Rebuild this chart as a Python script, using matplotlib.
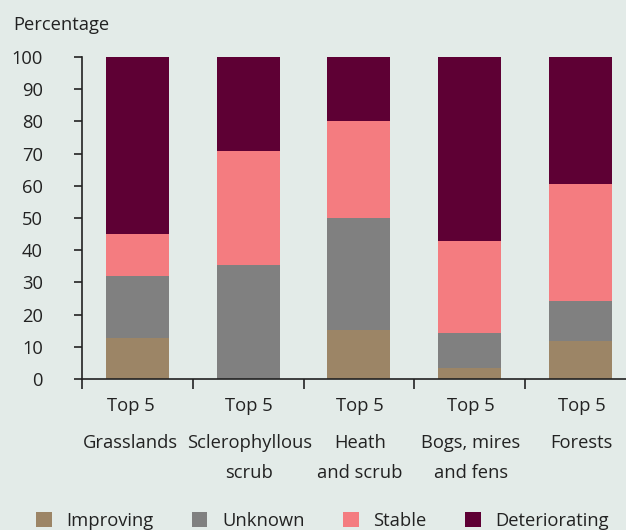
import matplotlib
matplotlib.use("Agg")
import matplotlib.pyplot as plt
import matplotlib.transforms as mtransforms
from matplotlib.patches import Patch
import numpy as np

plt.rcParams['font.family'] = ['Open Sans', 'DejaVu Sans']

categories = ["Grasslands", "Sclerophyllous\nscrub", "Heath\nand scrub", "Bogs, mires\nand fens", "Forests"]
prefix = "Top 5"
improving = [12.7, 0.0, 15.2, 3.4, 11.8]
unknown = [19.3, 35.4, 34.8, 10.9, 12.4]
stable = [13.0, 35.4, 30.1, 28.6, 36.4]
deteriorating = [55.0, 29.2, 19.9, 57.1, 39.4]
series_names = ["Improving", "Unknown", "Stable", "Deteriorating"]
colors = ["#9c8566", "#808080", "#f47c80", "#5e0034"]
yticks = [0, 10, 20, 30, 40, 50, 60, 70, 80, 90, 100]

FS = 13.2
bg = "#e3ebe8"
fig = plt.figure(figsize=(6.26, 5.30), dpi=100, facecolor=bg)
W, H = 626, 530
left, right, bottom, top = 82, 82 + 5 * 110.75, 379, 57
ax = fig.add_axes([left / W, 1 - bottom / H, (right - left) / W, (bottom - top) / H])
ax.set_facecolor(bg)

x = np.arange(len(categories))
data = [improving, unknown, stable, deteriorating]
base = np.zeros(len(categories))
for vals, c, name in zip(data, colors, series_names):
    ax.bar(x, vals, bottom=base, width=0.57, color=c, label=name, zorder=2)
    base += np.array(vals)

ax.set_xlim(-0.5, len(categories) - 0.5)
ax.set_ylim(0, 100)
ax.set_yticks(yticks)
ax.set_yticklabels([str(v) for v in yticks], fontsize=FS, color="#222222")
ax.tick_params(axis='y', length=6, width=1.2, pad=22, color="#222222")

ax.set_xticks(np.arange(-0.5, len(categories) + 0.5, 1.0))
ax.set_xticklabels([])
ax.tick_params(axis='x', length=7, width=1.2, color="#222222")

for s in ["top", "right"]:
    ax.spines[s].set_visible(False)
for s in ["left", "bottom"]:
    ax.spines[s].set_linewidth(1.2)
    ax.spines[s].set_color("#222222")

trans = mtransforms.blended_transform_factory(ax.transData, fig.transFigure)
for i, cat in enumerate(categories):
    xo = -0.06 if i == 0 else 0.01
    ax.text(i + xo, 1 - 406 / H, prefix, transform=trans, ha='center', va='center',
            fontsize=FS, color="#222222")
    ax.text(i + xo, 1 - 434 / H, cat, transform=trans, ha='center', va='top',
            fontsize=FS, color="#222222", linespacing=1.85)

fig.text(13 / W, 1 - 25 / H, "Percentage", ha='left', va='center', fontsize=FS, color="#222222")

handles = [Patch(facecolor=c, edgecolor='none') for c in colors]
leg = fig.legend(handles, series_names, loc='center left', bbox_to_anchor=(36 / W, 1 - 521 / H),
                 ncol=4, frameon=False, fontsize=FS, handlelength=0.85, handleheight=0.85,
                 handletextpad=0.8, columnspacing=2.1, labelcolor="#222222",
                 borderpad=0, borderaxespad=0)

fig.savefig("out.png", dpi=100, facecolor=bg)
